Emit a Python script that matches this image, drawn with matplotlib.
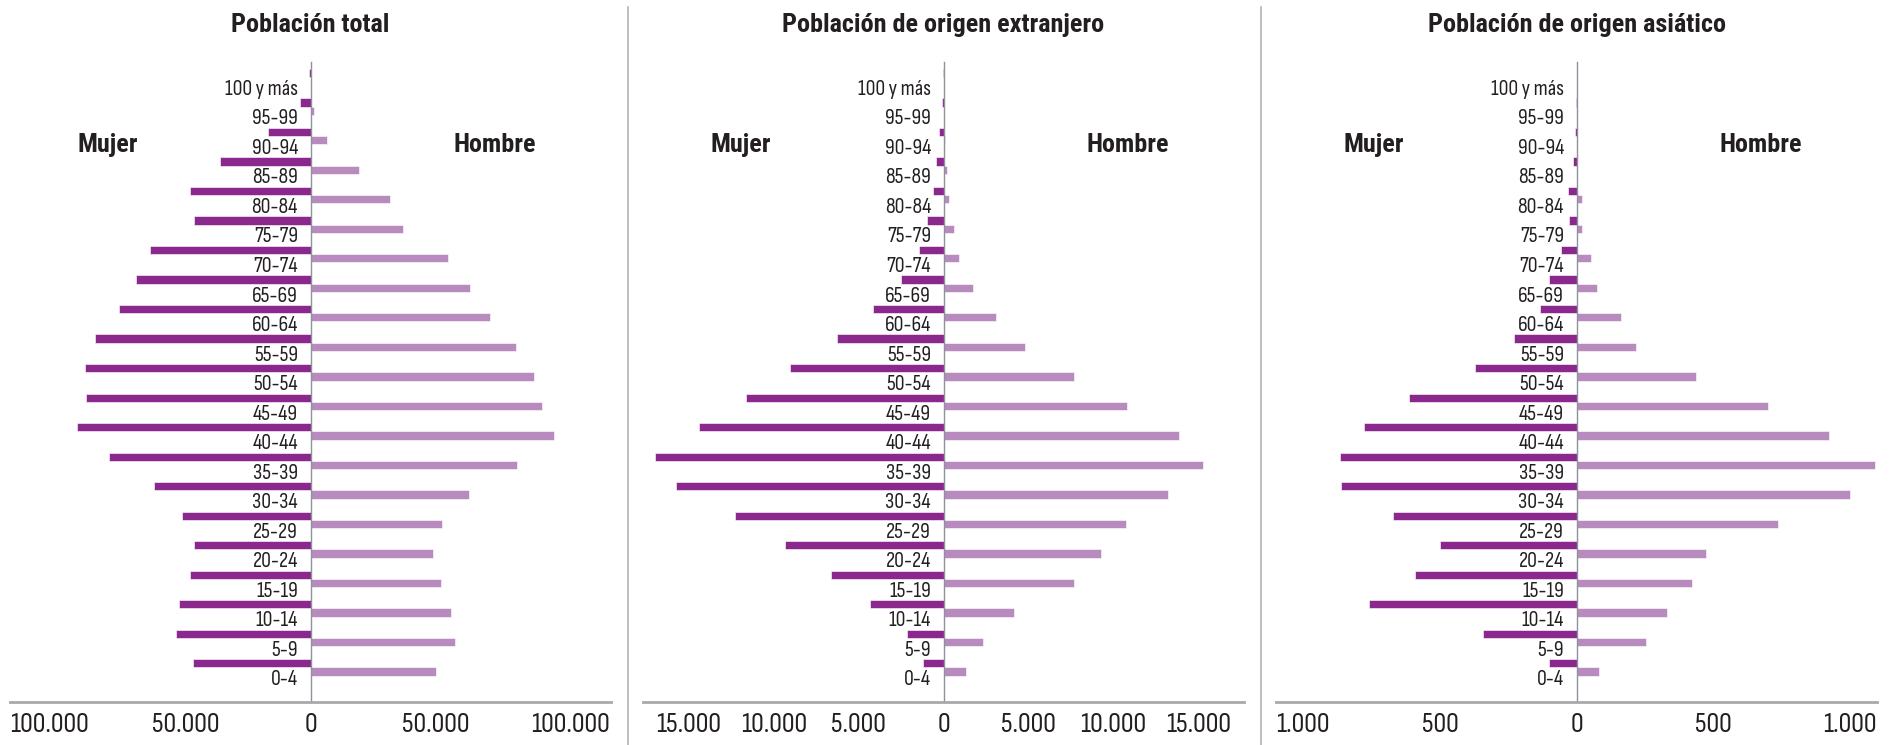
import matplotlib.pyplot as plt
import matplotlib.transforms as mtransforms
import numpy as np

fuente = ['Sofia Sans Condensed', 'Roboto Condensed', 'DejaVu Sans']
fuente_negrita = ['Roboto Condensed', 'DejaVu Sans']
plt.rcParams['font.family'] = fuente

# age groups, bottom to top
edades = ["0-4", "5-9", "10-14", "15-19", "20-24", "25-29", "30-34", "35-39",
          "40-44", "45-49", "50-54", "55-59", "60-64", "65-69", "70-74",
          "75-79", "80-84", "85-89", "90-94", "95-99", "100 y más"]

total_mujer = [47000, 53700, 52600, 48000, 46700, 51500, 62300, 80500, 93200,
               89600, 90000, 86200, 76300, 69700, 64200, 46700, 48000, 36200,
               17100, 4200, 500]
total_hombre = [50200, 57800, 56300, 52000, 49100, 52600, 63400, 82400, 97200,
                92500, 89300, 81900, 71600, 63600, 54900, 36800, 31900, 19300,
                6400, 1300, 100]

extr_mujer = [1210, 2150, 4350, 6630, 9350, 12300, 15780, 16970, 14410, 11640,
              9040, 6290, 4160, 2530, 1440, 950, 620, 450, 240, 70, 50]
extr_hombre = [1300, 2320, 4160, 7690, 9250, 10770, 13230, 15310, 13870, 10810,
               7710, 4800, 3080, 1730, 900, 620, 330, 210, 90, 20, 10]

asia_mujer = [101, 342, 761, 590, 501, 670, 863, 864, 778, 613, 373, 227, 134,
              99, 58, 27, 30, 12, 4, 2, 0]
asia_hombre = [82, 255, 330, 424, 475, 736, 1001, 1093, 925, 700, 439, 219,
               163, 76, 52, 19, 19, 3, 2, 0, 0]

titulos = ["Población total", "Población de origen extranjero",
           "Población de origen asiático"]
limites = [120000, 17700, 1100]
ticks = [[-100000, -50000, 0, 50000, 100000],
         [-15000, -10000, -5000, 0, 5000, 10000, 15000],
         [-1000, -500, 0, 500, 1000]]

col_mujer = "#8a288e"
col_hombre = "#b88bbf"
gris = "#a7a9ac"
texto = "#231f20"


def fmt(v):
    return f"{abs(v):,}".replace(",", ".")


fig = plt.figure(figsize=(18.96, 7.45), dpi=100)
renderer = fig.canvas.get_renderer()


def tamano(cadena, ancho_px, **kw):
    # font size that gives the text the width (pixels) seen in the reference
    t = fig.text(0, 0, cadena, fontsize=10, **kw)
    w = t.get_window_extent(renderer).width
    t.remove()
    return 10 * ancho_px / w


t_cat = tamano("95-99", 46, family=fuente)
t_tick = tamano("100.000", 80, family=fuente)
t_tit = tamano("Población total", 159, family=fuente_negrita, fontweight="bold")
t_lab = tamano("Mujer", 60, family=fuente_negrita, fontweight="bold")

lefts = [10 / 1896, 643 / 1896, 1276 / 1896]
y = np.arange(len(edades))
h = 0.28

for i, (mujer, hombre) in enumerate([(total_mujer, total_hombre),
                                     (extr_mujer, extr_hombre),
                                     (asia_mujer, asia_hombre)]):
    ax = fig.add_axes([lefts[i], 43 / 745, 601 / 1896, 640 / 745])
    ax.barh(y + h / 2, -np.array(mujer), height=h, color=col_mujer,
            edgecolor="white", linewidth=0.4)
    ax.barh(y - h / 2, hombre, height=h, color=col_hombre,
            edgecolor="white", linewidth=0.4)
    ax.set_xlim(-limites[i], limites[i])
    ax.set_ylim(-1.17, 20.51)

    ax.spines["left"].set_position(("data", 0))
    ax.spines["left"].set_color("#8e939b")
    ax.spines["left"].set_linewidth(1)
    ax.spines["bottom"].set_color(gris)
    ax.spines["bottom"].set_linewidth(2)
    ax.spines["top"].set_visible(False)
    ax.spines["right"].set_visible(False)

    ax.set_yticks(y - 0.35)
    ax.set_yticklabels(edades)
    ax.set_xticks(ticks[i])
    ax.set_xticklabels([fmt(t) for t in ticks[i]])
    ax.tick_params(axis="y", length=0, pad=9, labelsize=t_cat, labelcolor=texto)
    ax.tick_params(axis="x", length=0, pad=8, labelsize=t_tick, labelcolor=texto)

    if i == 0:
        # outer labels sit flush with the ends of the axis line
        etiquetas = ax.get_xticklabels()
        for lab, dx in [(etiquetas[0], -11), (etiquetas[-1], 10)]:
            lab.set_transform(lab.get_transform() + mtransforms.ScaledTranslation(
                dx / 100, 0, fig.dpi_scale_trans))

    ax.text(0.5, 1.058, titulos[i], transform=ax.transAxes, ha="center",
            va="center", fontsize=t_tit, fontweight="bold", color=texto,
            family=fuente_negrita)
    ax.text(0.162, 0.870, "Mujer", transform=ax.transAxes, ha="center",
            va="center", fontsize=t_lab, fontweight="bold", color=texto,
            family=fuente_negrita)
    ax.text(0.806, 0.870, "Hombre", transform=ax.transAxes, ha="center",
            va="center", fontsize=t_lab, fontweight="bold", color=texto,
            family=fuente_negrita)

# panel dividers
for xd in [628 / 1896, 1261 / 1896]:
    fig.add_artist(plt.Line2D([xd, xd], [0, 0.99], color="#b3b3b3", lw=1.2))

fig.savefig("out.png", dpi=100)
